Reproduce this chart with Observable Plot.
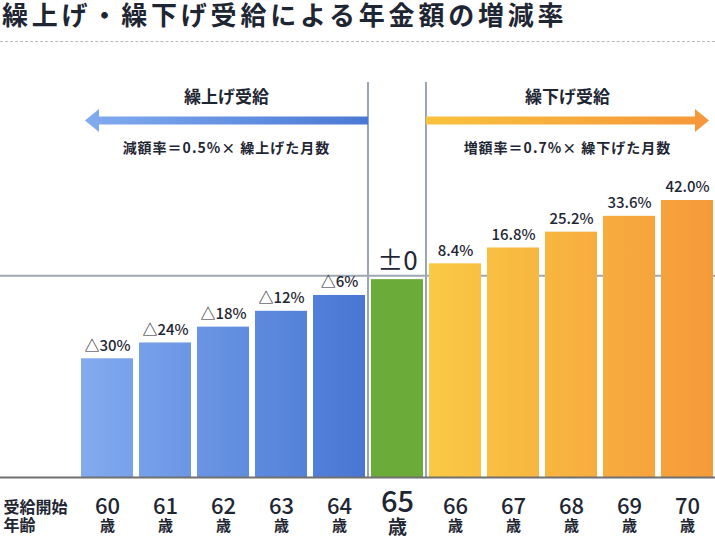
<!DOCTYPE html>
<html><head><meta charset="utf-8">
<script src="https://cdn.jsdelivr.net/npm/d3@7"></script>
<script src="https://cdn.jsdelivr.net/npm/@observablehq/plot@0.6"></script>
<style>
body{margin:0;background:#fff;width:715px;height:539px;overflow:hidden;position:relative;font-family:"Noto Sans CJK JP",sans-serif;color:#1f2633}
#title{position:absolute;left:2px;top:0;font-size:26px;font-weight:700;line-height:28px;letter-spacing:3.8px;white-space:nowrap}
#rule{position:absolute;left:0;top:41px;width:715px;border-top:1px dashed #b5b8bd}
#chart{position:absolute;left:0;top:50px}
</style></head><body>
<div id="title">繰上げ・繰下げ受給による年金額の増減率</div>
<div id="rule"></div>
<div id="chart"></div>
<script>
const ages = ["60","61","62","63","64","65","66","67","68","69","70"];
// bar heights as drawn (relative, 65歳 = 100)
const barHeights = [60,68,76,84,92,100,108,116,124,132,140];
const rateLabels = ["△30%","△24%","△18%","△12%","△6%","±0","8.4%","16.8%","25.2%","33.6%","42.0%"];
const groups = ["early","early","early","early","early","base","late","late","late","late","late"];
const baseAge = "65";
const ageUnit = "歳";
const axisTitle = "受給開始\n年齢";
const sideTitles = ["繰上げ受給","繰下げ受給"];
const sideFormulas = ["減額率＝0.5%× 繰上げた月数","増額率＝0.7%× 繰下げた月数"];

const data = ages.map((a,i)=>({age:a, h:barHeights[i], label:rateLabels[i], group:groups[i]}));
const ink = "#1f2633";
const font = "'Noto Sans CJK JP', sans-serif";

function addGrad(defs, id, x1, x2, c1, c2){
  const lg = defs.append("linearGradient").attr("id", id)
    .attr("gradientUnits","userSpaceOnUse").attr("x1",x1).attr("x2",x2).attr("y1",0).attr("y2",0);
  lg.append("stop").attr("offset","0%").attr("stop-color",c1);
  lg.append("stop").attr("offset","100%").attr("stop-color",c2);
}

function decorations(index, scales, values, dims){
  const x = scales.x;
  const bw = x.bandwidth(), step = x.step(), gap = step - bw;
  const first = ages[0], last = ages[ages.length-1];
  const leftLine = x(baseAge) - gap/2, rightLine = x(baseAge) + bw + gap/2;
  const leftEnd = x(first) + 4, rightEnd = x(last) + bw - 4;
  const g = d3.create("svg:g");
  const defs = g.append("defs");
  const early = ages.filter((a,i)=>groups[i]==="early");
  const late = ages.filter((a,i)=>groups[i]==="late");
  addGrad(defs, "gBlueBar", x(early[0]), x(early[early.length-1]) + bw, "#82abef", "#4876d3");
  addGrad(defs, "gOrangeBar", x(late[0]), x(late[late.length-1]) + bw, "#fac944", "#f59a3a");
  addGrad(defs, "gBlueArrow", leftEnd, leftLine, "#82abef", "#4a79d5");
  addGrad(defs, "gOrangeArrow", rightLine, rightEnd, "#f9c23d", "#f5963a");
  const top = dims.marginTop, bottom = dims.height - dims.marginBottom;
  for (const lx of [leftLine, rightLine]) {
    g.append("line").attr("x1",lx).attr("x2",lx).attr("y1",top).attr("y2",bottom)
      .attr("stroke","#9ba6b5").attr("stroke-width",2);
  }
  const ay = top + 38.5, sh = 4, hh = 11.5, hl = 14;
  const la = [[leftLine, ay-sh],[leftEnd+hl, ay-sh],[leftEnd+hl, ay-hh],[leftEnd, ay],[leftEnd+hl, ay+hh],[leftEnd+hl, ay+sh],[leftLine, ay+sh]];
  const ra = [[rightLine, ay-sh],[rightEnd-hl, ay-sh],[rightEnd-hl, ay-hh],[rightEnd, ay],[rightEnd-hl, ay+hh],[rightEnd-hl, ay+sh],[rightLine, ay+sh]];
  g.append("polygon").attr("points", la.map(p=>p.join(",")).join(" ")).attr("fill","url(#gBlueArrow)");
  g.append("polygon").attr("points", ra.map(p=>p.join(",")).join(" ")).attr("fill","url(#gOrangeArrow)");
  const centers = [(leftEnd+leftLine)/2, (rightLine+rightEnd)/2];
  centers.forEach((cx,i)=>{
    g.append("text").attr("x",cx).attr("y",top+13).attr("text-anchor","middle").attr("dominant-baseline","central")
      .attr("font-size",17).attr("font-weight",700).attr("fill",ink).attr("font-family",font).text(sideTitles[i]);
    g.append("text").attr("x",cx).attr("y",top+65).attr("text-anchor","middle").attr("dominant-baseline","central")
      .attr("font-size",14).attr("font-weight",700).attr("letter-spacing","1px").attr("fill",ink).attr("font-family",font).text(sideFormulas[i]);
  });
  return g.node();
}

const chart = Plot.plot({
  width: 715, height: 489,
  marginTop: 32, marginBottom: 62, marginLeft: 0, marginRight: 0,
  x: {domain: ages, range: [80, 714], paddingInner: 0.1, paddingOuter: 0, axis: null},
  y: {domain: [0, d3.max(barHeights)], range: [427, 150], axis: null},
  style: {fontFamily: font, color: ink, background: "#fff", overflow: "visible"},
  marks: [
    decorations,
    Plot.ruleY([barHeights[ages.indexOf(baseAge)]], {dy: -4, stroke: "#9ea8b5", strokeWidth: 2}),
    Plot.barY(data, {filter: d=>d.group==="early", x:"age", y:"h", fill:"url(#gBlueBar)"}),
    Plot.barY(data, {filter: d=>d.group==="base", x:"age", y:"h", fill:"#6aab39"}),
    Plot.barY(data, {filter: d=>d.group==="late", x:"age", y:"h", fill:"url(#gOrangeBar)"}),
    Plot.ruleY([0], {stroke: "#707070", strokeWidth: 2}),
    Plot.text(data, {filter: d=>d.group!=="base", x:"age", y:"h", text:"label", dy:-13, fontSize:15, fontWeight:500, fill: ink}),
    Plot.text(data, {filter: d=>d.group==="base", x:"age", y:"h", text:"label", dy:-18, fontSize:26, fontWeight:400, fill: ink}),
    Plot.text(data, {filter: d=>d.age!==baseAge, x:"age", text:"age", frameAnchor:"bottom", lineAnchor:"middle", dy:29, fontSize:22, fontWeight:500, fill: ink}),
    Plot.text(data, {filter: d=>d.age!==baseAge, x:"age", text:()=>ageUnit, frameAnchor:"bottom", lineAnchor:"middle", dy:49, fontSize:15, fontWeight:700, fill: ink}),
    Plot.text(data, {filter: d=>d.age===baseAge, x:"age", text:"age", frameAnchor:"bottom", lineAnchor:"middle", dy:25, fontSize:29, fontWeight:500, fill: ink}),
    Plot.text(data, {filter: d=>d.age===baseAge, x:"age", text:()=>ageUnit, frameAnchor:"bottom", lineAnchor:"middle", dy:50, fontSize:19, fontWeight:700, fill: ink}),
    Plot.text([axisTitle], {frameAnchor:"bottom-left", lineAnchor:"middle", textAnchor:"start", dx:3, dy:39, fontSize:16, fontWeight:700, lineHeight:1.125, fill: ink})
  ]
});
document.getElementById("chart").appendChild(chart);
</script>
</body></html>
